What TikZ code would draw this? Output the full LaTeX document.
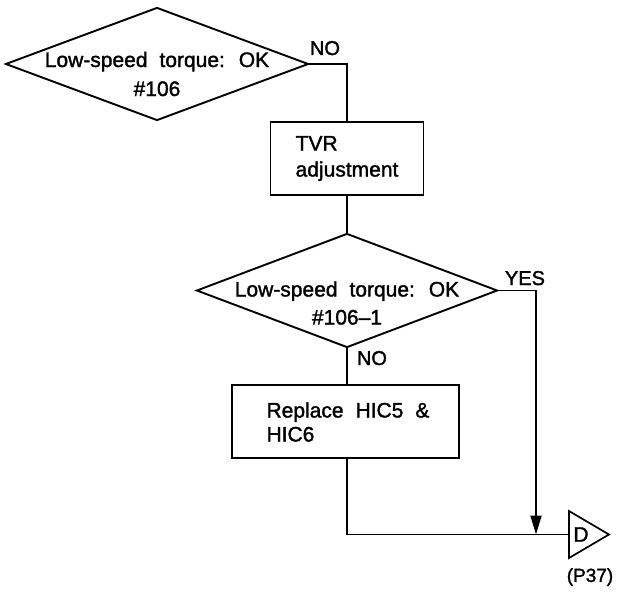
\documentclass[tikz,border=0pt]{standalone}
\usepackage{fontspec}
\setmainfont{Liberation Sans}[FakeBold=1.5]
\usetikzlibrary{shapes.geometric,arrows.meta}
\newcommand\widesp{\spaceskip=12pt plus 2pt\relax}
\begin{document}
\begin{tikzpicture}[x=1pt,y=-1pt,line width=1.9pt,
  dia/.style={draw,diamond,inner sep=0pt,line join=miter},
  box/.style={draw,rectangle,inner sep=0pt},
  txt/.style={font=\fontsize{21}{29}\selectfont\widesp,inner sep=0pt},
  lbl/.style={font=\fontsize{20}{24}\selectfont,inner sep=0pt,anchor=base west},
  arr/.style={-{Triangle[length=19pt,width=11pt]}}]
\useasboundingbox (0,0) rectangle (620,591);
% shapes
\node[dia,minimum width=303pt,minimum height=113pt] (d1) at (157,64) {};
\node[txt,align=center] (t1) at (157,74) {Low-speed torque: OK\\ \#106};
\node[box,minimum width=153pt,minimum height=73pt] (b1) at (347,158.5) {};
\node[txt,align=left,font=\fontsize{21}{26}\selectfont] (t2) at (b1) {TVR\\adjustment};
\node[dia,minimum width=301pt,minimum height=114pt] (d2) at (347,290.5) {};
\node[txt,align=center,font=\fontsize{21}{28}\selectfont\widesp] (t3) at (347,303) {Low-speed torque: OK\\ \#106--1};
\node[box,minimum width=227pt,minimum height=73pt] (b2) at (345.5,421.5) {};
\node[txt,align=left,font=\fontsize{21}{24}\selectfont\widesp] (t4) at (348,422) {Replace HIC5 \&\\HIC6};
% off-page connector
\coordinate (Dw) at (569,534.5);
\draw[line width=1.7pt,line join=miter] (569,511) -- (609,534.5) -- (569,558) -- cycle;
\node[txt] (D) at (581,534.5) {D};
\node[font=\fontsize{19}{20}\selectfont,inner sep=0pt] (p37) at (590,577) {(P37)};
\coordinate (m) at (536,534.5);
% labels
\node[lbl] (no1) at (309,55) {NO};
\node[lbl] (yes) at (504,285) {YES};
\node[lbl] (no2) at (356,365) {NO};
% connectors
\draw (d1.east) -| (b1.north);
\draw (b1.south) -- (d2.north);
\draw (d2.south) -- (b2.north -| d2.south);
\draw[arr] (d2.east) -| (m);
\draw (b2.south -| d2.south) |- (Dw);
\end{tikzpicture}
\end{document}
